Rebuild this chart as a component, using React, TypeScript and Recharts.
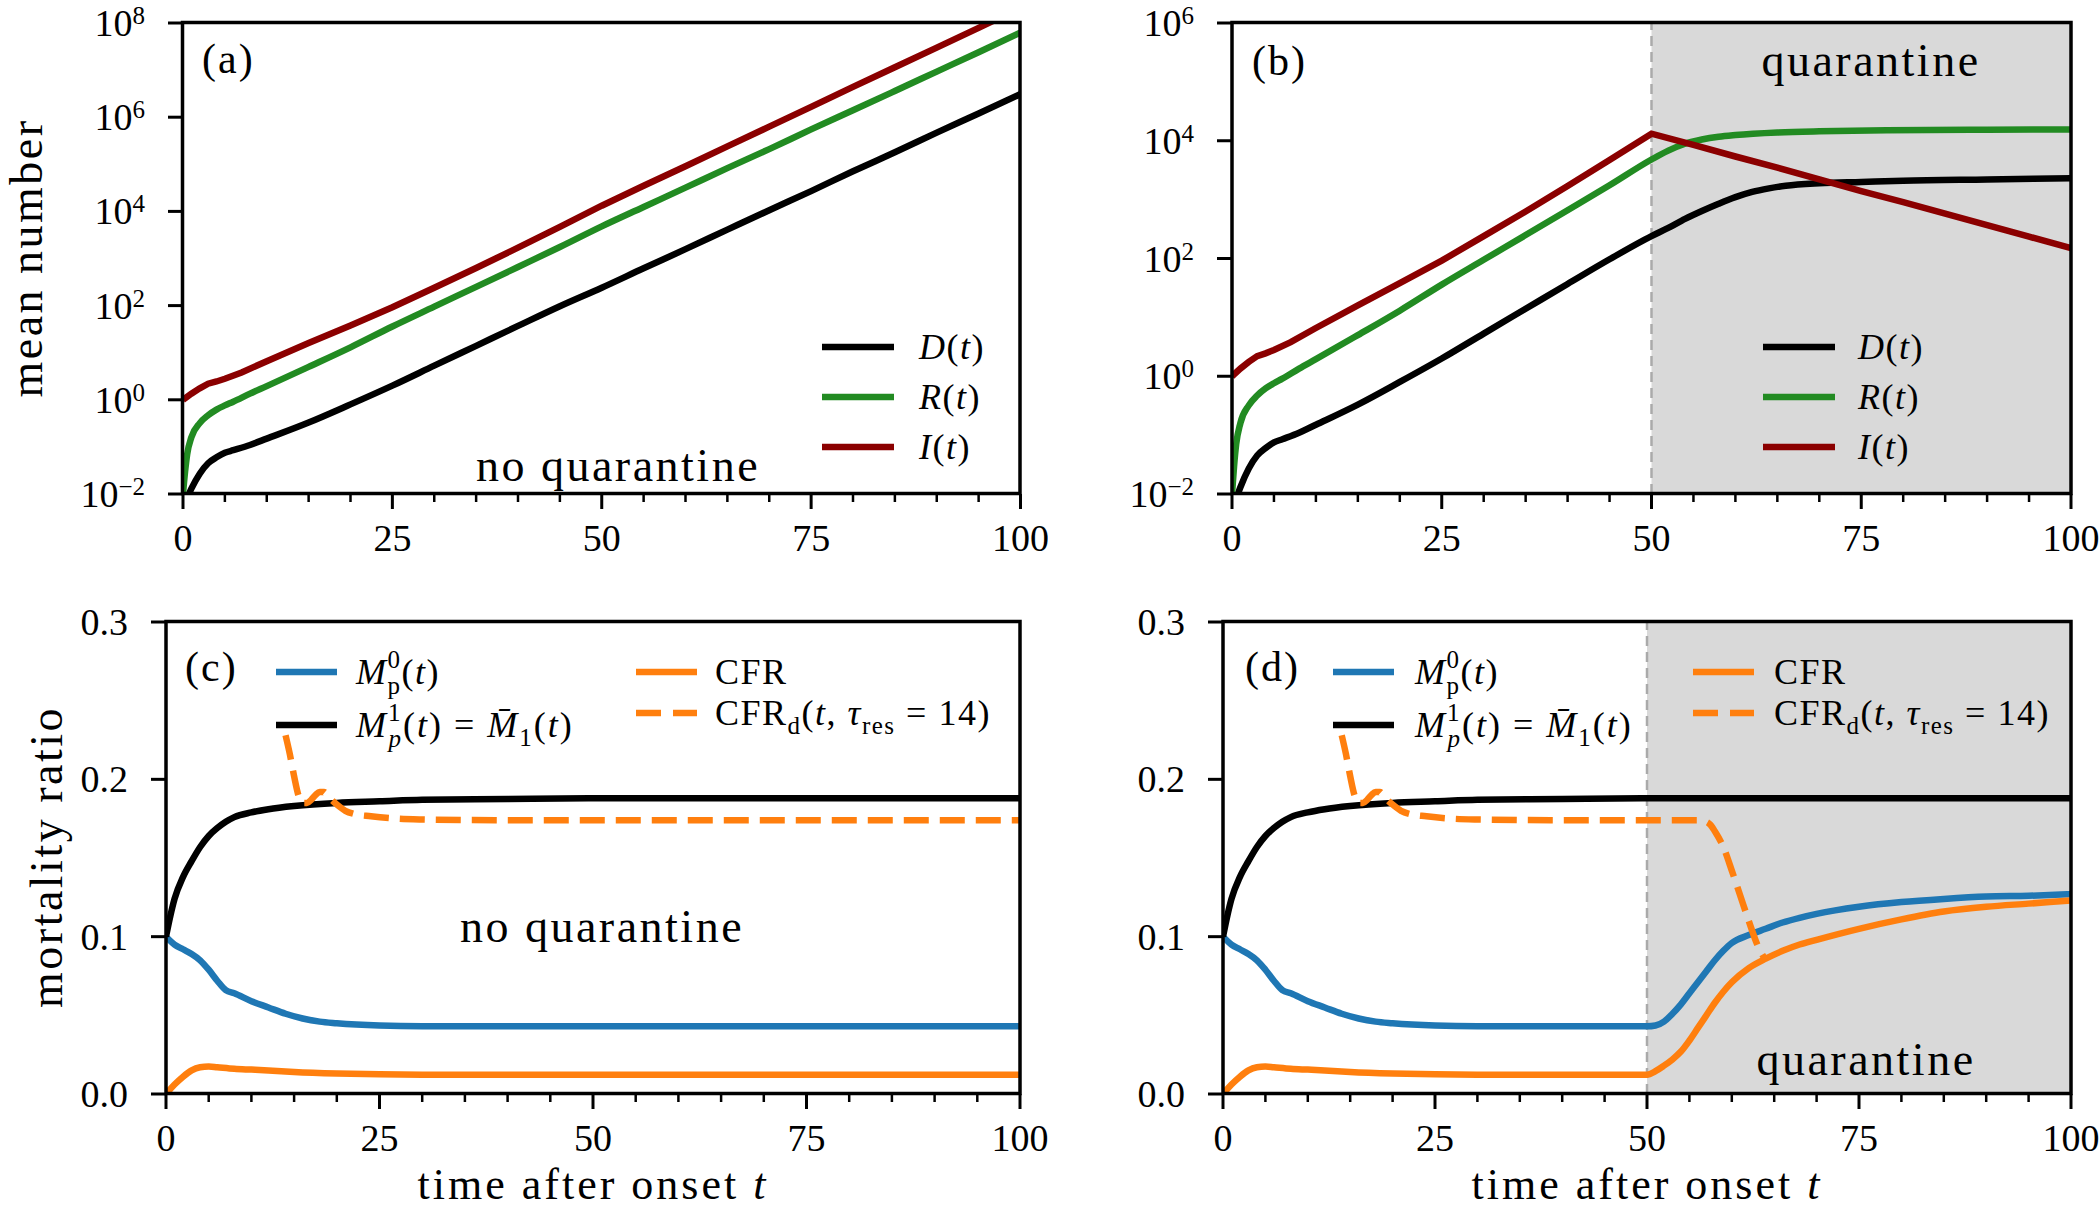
import React from "react";
import { LineChart, Line, XAxis, YAxis, ReferenceArea, ReferenceLine } from "recharts";

const SERIF = "Liberation Serif, Tinos, DejaVu Serif, Noto Serif, serif";

// ---- top row: mean numbers (log scale) ----
const infT = [0, 1, 2, 3, 4, 5, 7, 10, 15, 20, 25, 30, 35, 40, 45, 50];
const infEarly = [1, 1.35, 1.75, 2.2, 2.45, 2.8, 3.8, 6.6, 16, 38, 92, 240, 630, 1700, 4700, 13200];
const lateT = [55, 60, 65, 70, 75, 80, 85, 90, 95, 100];
const infFree = [35000, 91000, 240000, 630000, 1.66e6, 4.4e6, 1.15e7, 3.0e7, 7.9e7, 2.1e8];
const infQuar = [8500, 5400, 3500, 2200, 1400, 910, 580, 370, 235, 150];

const recT = [0, 0.25, 0.5, 1, 2, 3, 4, 5, 6, 8, 10, 15, 20, 25, 30, 35, 40, 45, 50];
const recEarly = [0.01, 0.03, 0.07, 0.16, 0.32, 0.47, 0.62, 0.76, 0.91, 1.35, 1.95, 5, 13, 36, 95, 250, 660, 1750, 4800];
const recFree = [12400, 32000, 83000, 210000, 550000, 1.4e6, 3.6e6, 9.3e6, 2.4e7, 6.3e7];
const recQuarT = [52, 54, 56, 58, 60, 65, 70, 78, 90, 100];
const recQuar = [6800, 8900, 10500, 11700, 12500, 13800, 14500, 15100, 15400, 15500];

const deadT = [0.7, 1, 2, 3, 4, 5, 6, 8, 10, 15, 20, 25, 30, 35, 40, 45, 50];
const deadEarly = [0.01, 0.013, 0.027, 0.045, 0.06, 0.075, 0.085, 0.11, 0.15, 0.33, 0.8, 2, 5.3, 14, 37, 97, 240];
const deadFree = [620, 1580, 4100, 10600, 27000, 71000, 180000, 470000, 1.2e6, 3.1e6];
const deadQuarT = [52, 54, 56, 58, 60, 62, 64, 66, 70, 75, 80, 90, 100];
const deadQuar = [330, 470, 640, 850, 1100, 1350, 1550, 1720, 1900, 2000, 2100, 2200, 2300];

// ---- bottom row: mortality ratios ----
const m0T = [0, 1, 2, 3, 4, 5, 6, 7, 8, 10, 12, 14, 16, 18, 20, 25, 30, 40, 50];
const m0Early = [0.1, 0.095, 0.092, 0.089, 0.085, 0.079, 0.072, 0.066, 0.064, 0.059, 0.055, 0.051, 0.048, 0.046, 0.045, 0.0435, 0.043, 0.043, 0.043];
const freeT = [60, 70, 80, 90, 100];
const m0Free = [0.043, 0.043, 0.043, 0.043, 0.043];
const quarT = [51, 52, 53, 54, 55, 56, 57, 58, 59, 60, 62, 64, 66, 68, 70, 75, 80, 85, 90, 95, 100];
const m0Quar = [0.0435, 0.046, 0.051, 0.057, 0.064, 0.071, 0.078, 0.085, 0.091, 0.096, 0.101, 0.105, 0.109, 0.112, 0.1145, 0.119, 0.122, 0.124, 0.1255, 0.126, 0.127];

const m1T = [0, 0.5, 1, 2, 3, 4, 5, 6, 7, 8, 10, 12, 15, 20, 25, 30, 40, 50, 60, 70, 80, 90, 100];
const m1Vals = [0.1, 0.113, 0.124, 0.138, 0.148, 0.157, 0.164, 0.169, 0.173, 0.176, 0.179, 0.181, 0.183, 0.185, 0.186, 0.187, 0.1875, 0.188, 0.188, 0.188, 0.188, 0.188, 0.188];

const cfrT = [0, 1, 2, 3, 4, 5, 6, 8, 10, 12, 15, 20, 25, 30, 40, 50];
const cfrEarly = [0, 0.006, 0.011, 0.015, 0.017, 0.0175, 0.017, 0.016, 0.0155, 0.015, 0.014, 0.013, 0.0125, 0.0123, 0.0122, 0.0122];
const cfrFree = [0.0122, 0.0122, 0.0122, 0.0122, 0.0122];
const cfrQuar = [0.0145, 0.018, 0.022, 0.027, 0.034, 0.042, 0.05, 0.058, 0.065, 0.071, 0.08, 0.086, 0.091, 0.095, 0.098, 0.105, 0.111, 0.116, 0.119, 0.121, 0.123];

const cfrdT = [14, 14.5, 15, 15.5, 16, 16.5, 17, 17.5, 18, 18.5, 19, 20, 21, 22, 24, 27, 30, 40, 50];
const cfrdEarly = [0.228, 0.216, 0.202, 0.19, 0.185, 0.185, 0.187, 0.19, 0.192, 0.192, 0.189, 0.184, 0.18, 0.178, 0.1765, 0.175, 0.1745, 0.174, 0.174];
const cfrdFree = [0.174, 0.174, 0.174, 0.174, 0.174];
const cfrdQuarT = [56, 57, 57.5, 58, 59, 60, 61, 62, 63, 64];
const cfrdQuar = [0.174, 0.173, 0.171, 0.167, 0.157, 0.142, 0.126, 0.11, 0.095, 0.085];

const xTicks = [0, 5, 10, 15, 20, 25, 30, 35, 40, 45, 50, 55, 60, 65, 70, 75, 80, 85, 90, 95, 100];
const logTicksA = [1e-2, 1, 1e2, 1e4, 1e6, 1e8];
const logTicksB = [1e-2, 1, 1e2, 1e4, 1e6];
const ratioTicks = [0, 0.1, 0.2, 0.3];

const RED = "#8b0000";
const GREEN = "#228b22";
const BLUE = "#1f77b4";
const ORANGE = "#ff7f0e";

const pts = (ts: number[], vs: number[]) => ts.map((t, i) => ({ t, v: vs[i] }));

const infectedA = pts([...infT, ...lateT], [...infEarly, ...infFree]);
const infectedB = pts([...infT, ...lateT], [...infEarly, ...infQuar]);
const recoveredA = pts([...recT, ...lateT], [...recEarly, ...recFree]);
const recoveredB = pts([...recT, ...recQuarT], [...recEarly, ...recQuar]);
const deadA = pts([...deadT, ...lateT], [...deadEarly, ...deadFree]);
const deadB = pts([...deadT, ...deadQuarT], [...deadEarly, ...deadQuar]);

const m0C = pts([...m0T, ...freeT], [...m0Early, ...m0Free]);
const m0D = pts([...m0T, ...quarT], [...m0Early, ...m0Quar]);
const m1 = pts(m1T, m1Vals);
const cfrC = pts([...cfrT, ...freeT], [...cfrEarly, ...cfrFree]);
const cfrD = pts([...cfrT, ...quarT], [...cfrEarly, ...cfrQuar]);
const cfrdC = pts([...cfrdT, ...freeT], [...cfrdEarly, ...cfrdFree]);
const cfrdD = pts([...cfrdT, ...cfrdQuarT], [...cfrdEarly, ...cfrdQuar]);

type Box = { x0: number; y0: number; x1: number; y1: number };
const boxA: Box = { x0: 182.5, y0: 22.5, x1: 1020, y1: 493.5 };
const boxB: Box = { x0: 1232, y0: 22.5, x1: 2071, y1: 493.5 };
const boxC: Box = { x0: 166, y0: 621.5, x1: 1020, y1: 1093.5 };
const boxD: Box = { x0: 1223, y0: 621.5, x1: 2071, y1: 1093.5 };

const YW = 160;
const MT = 22;
const MR = 28;
const XH = 75;
const LW = 6.5;

function XTick(props: any) {
  const { x, y, payload } = props;
  const major = payload.value % 25 === 0;
  return (
    <g>
      <line x1={x} x2={x} y1={y} y2={y + (major ? 15 : 8)} stroke="#000" strokeWidth={major ? 3 : 2.5} />
      {major && (
        <text x={x} y={y + 57} textAnchor="middle" style={{ fontFamily: SERIF }} fontSize={38} fill="#000">
          {payload.value}
        </text>
      )}
    </g>
  );
}

function LogTick(props: any) {
  const { x, y, payload } = props;
  const e = Math.round(Math.log10(payload.value));
  return (
    <g>
      <line x1={x - 15} x2={x} y1={y} y2={y} stroke="#000" strokeWidth={3} />
      <text x={x - 38} y={y + 13} textAnchor="end" style={{ fontFamily: SERIF }} fontSize={38} fill="#000">
        10
        <tspan fontSize={25} dy={-12}>{e < 0 ? "\u2212" + -e : String(e)}</tspan>
      </text>
    </g>
  );
}

function RatioTick(props: any) {
  const { x, y, payload } = props;
  return (
    <g>
      <line x1={x - 15} x2={x} y1={y} y2={y} stroke="#000" strokeWidth={3} />
      <text x={x - 38} y={y + 13} textAnchor="end" style={{ fontFamily: SERIF }} fontSize={38} fill="#000">
        {payload.value.toFixed(1)}
      </text>
    </g>
  );
}

function Panel({ box, log, top, quarantine, children }: { box: Box; log: boolean; top: number; quarantine: boolean; children: React.ReactNode }) {
  const w = YW + box.x1 - box.x0 + MR;
  const h = MT + box.y1 - box.y0 + XH;
  const yDomain = log ? [0.01, top] : [0, 0.3];
  return (
    <div style={{ position: "absolute", left: box.x0 - YW, top: box.y0 - MT }}>
      <LineChart width={w} height={h} margin={{ top: MT, right: MR, left: 0, bottom: 0 }} style={{ overflow: "visible" }}>
        <XAxis
          dataKey="t"
          type="number"
          domain={[0, 100]}
          ticks={xTicks}
          interval={0}
          allowDataOverflow
          axisLine={false}
          tickLine={false}
          tickSize={0}
          tickMargin={0}
          height={XH}
          tick={(p: any) => <XTick {...p} />}
        />
        {log ? (
          <YAxis
            type="number"
            scale="log"
            domain={yDomain}
            ticks={top === 1e8 ? logTicksA : logTicksB}
            interval={0}
            allowDataOverflow
            axisLine={false}
            tickLine={false}
            tickSize={0}
            tickMargin={0}
            width={YW}
            tick={(p: any) => <LogTick {...p} />}
          />
        ) : (
          <YAxis
            type="number"
            domain={yDomain}
            ticks={ratioTicks}
            interval={0}
            allowDataOverflow
            axisLine={false}
            tickLine={false}
            tickSize={0}
            tickMargin={0}
            width={YW}
            tick={(p: any) => <RatioTick {...p} />}
          />
        )}
        {quarantine && (
          <ReferenceArea x1={50} x2={100} y1={yDomain[0]} y2={yDomain[1]} fill="#d9d9d9" fillOpacity={1} stroke="none" />
        )}
        {quarantine && <ReferenceLine x={50} stroke="#aaaaaa" strokeWidth={2.5} strokeDasharray="10 6" />}
        {children}
      </LineChart>
    </div>
  );
}

const lineProps = { dataKey: "v", dot: false, activeDot: false, isAnimationActive: false, strokeWidth: LW } as const;

function Frame({ box }: { box: Box }) {
  return <rect x={box.x0} y={box.y0} width={box.x1 - box.x0} height={box.y1 - box.y0} fill="none" stroke="#000" strokeWidth={3.5} />;
}

function Handle({ x, y, color, dashed }: { x: number; y: number; color: string; dashed?: boolean }) {
  return <line x1={x} x2={x + 61} y1={y} y2={y} stroke={color} strokeWidth={LW} strokeDasharray={dashed ? "25 12" : undefined} />;
}

function TopLegend({ lx, tx }: { lx: number; tx: number }) {
  const rows = [
    { y: 347, c: "#000", s: "D" },
    { y: 397, c: GREEN, s: "R" },
    { y: 447, c: RED, s: "I" },
  ];
  return (
    <g>
      {rows.map((r) => (
        <g key={r.s}>
          <line x1={lx} x2={lx + 72} y1={r.y} y2={r.y} stroke={r.c} strokeWidth={LW} />
          <text x={tx} y={r.y + 12} fontSize={36} letterSpacing={1.5}>
            <tspan fontStyle="italic">{r.s}</tspan>(<tspan fontStyle="italic">t</tspan>)
          </text>
        </g>
      ))}
    </g>
  );
}

function BottomLegend({ lx, tx, rx, rtx }: { lx: number; tx: number; rx: number; rtx: number }) {
  return (
    <g fontSize={36} letterSpacing={1.5}>
      <Handle x={lx} y={672} color={BLUE} />
      <text x={tx} y={684}>
        <tspan fontStyle="italic">M</tspan>
        <tspan fontSize={25} dy={-16}>0</tspan>
        <tspan fontSize={25} dx={-14} dy={26}>p</tspan>
        <tspan dy={-10}>(</tspan>
        <tspan fontStyle="italic">t</tspan>
        <tspan>)</tspan>
      </text>
      <Handle x={lx} y={725} color="#000" />
      <text x={tx} y={737} letterSpacing={2}>
        <tspan fontStyle="italic">M</tspan>
        <tspan fontSize={25} dy={-16}>1</tspan>
        <tspan fontSize={25} fontStyle="italic" dx={-14} dy={26}>p</tspan>
        <tspan dy={-10}>(</tspan>
        <tspan fontStyle="italic">t</tspan>
        <tspan>) = </tspan>
        <tspan fontStyle="italic">{"M\u0304"}</tspan>
        <tspan fontSize={25} dy={9}>1</tspan>
        <tspan dy={-9}>(</tspan>
        <tspan fontStyle="italic">t</tspan>
        <tspan>)</tspan>
      </text>
      <Handle x={rx} y={672} color={ORANGE} />
      <text x={rtx} y={684}>CFR</text>
      <Handle x={rx} y={713} color={ORANGE} dashed />
      <text x={rtx} y={725}>
        <tspan>CFR</tspan>
        <tspan fontSize={25} dy={9}>d</tspan>
        <tspan dy={-9}>(</tspan>
        <tspan fontStyle="italic">t</tspan>
        <tspan>, </tspan>
        <tspan fontStyle="italic">{"\u03c4"}</tspan>
        <tspan fontSize={25} dy={9}>res</tspan>
        <tspan dy={-9}> = 14)</tspan>
      </text>
    </g>
  );
}

export default function App() {
  return (
    <div style={{ position: "absolute", left: 0, top: 0, width: 2100, height: 1209, overflow: "hidden", background: "#fff", fontFamily: SERIF }}>
      <Panel box={boxA} log top={1e8} quarantine={false}>
        <Line {...lineProps} data={deadA} stroke="#000" type="monotone" />
        <Line {...lineProps} data={recoveredA} stroke={GREEN} type="monotone" />
        <Line {...lineProps} data={infectedA} stroke={RED} type="linear" />
      </Panel>
      <Panel box={boxB} log top={1e6} quarantine>
        <Line {...lineProps} data={deadB} stroke="#000" type="monotone" />
        <Line {...lineProps} data={recoveredB} stroke={GREEN} type="monotone" />
        <Line {...lineProps} data={infectedB} stroke={RED} type="linear" />
      </Panel>
      <Panel box={boxC} log={false} top={0.3} quarantine={false}>
        <Line {...lineProps} data={m0C} stroke={BLUE} type="monotone" />
        <Line {...lineProps} data={m1} stroke="#000" type="monotone" />
        <Line {...lineProps} data={cfrC} stroke={ORANGE} type="monotone" />
        <Line {...lineProps} data={cfrdC} stroke={ORANGE} type="monotone" strokeDasharray="25 11" strokeLinecap="butt" />
      </Panel>
      <Panel box={boxD} log={false} top={0.3} quarantine>
        <Line {...lineProps} data={m0D} stroke={BLUE} type="monotone" />
        <Line {...lineProps} data={m1} stroke="#000" type="monotone" />
        <Line {...lineProps} data={cfrD} stroke={ORANGE} type="monotone" />
        <Line {...lineProps} data={cfrdD} stroke={ORANGE} type="monotone" strokeDasharray="25 11" strokeLinecap="butt" />
      </Panel>

      <svg width={2100} height={1209} style={{ position: "absolute", left: 0, top: 0, pointerEvents: "none", fontFamily: SERIF }} fill="#000">
        <Frame box={boxA} />
        <Frame box={boxB} />
        <Frame box={boxC} />
        <Frame box={boxD} />

        <g fontSize={42} letterSpacing={2}>
          <text x={202} y={73}>(a)</text>
          <text x={1252} y={75}>(b)</text>
          <text x={185} y={681}>(c)</text>
          <text x={1245} y={681}>(d)</text>
        </g>

        <g fontSize={46} letterSpacing={2.5}>
          <text x={618} y={481} textAnchor="middle">no quarantine</text>
          <text x={602} y={942} textAnchor="middle">no quarantine</text>
          <text x={1871} y={76} textAnchor="middle">quarantine</text>
          <text x={1866} y={1075} textAnchor="middle">quarantine</text>
          <text transform="translate(42 258) rotate(-90)" textAnchor="middle">mean number</text>
          <text transform="translate(62 857) rotate(-90)" textAnchor="middle">mortality ratio</text>
        </g>
        <g fontSize={44} letterSpacing={3}>
          <text x={593} y={1199} textAnchor="middle">
            time after onset <tspan fontStyle="italic">t</tspan>
          </text>
          <text x={1647} y={1199} textAnchor="middle">
            time after onset <tspan fontStyle="italic">t</tspan>
          </text>
        </g>

        <TopLegend lx={822} tx={919} />
        <TopLegend lx={1763} tx={1858} />
        <BottomLegend lx={276} tx={356} rx={636} rtx={715} />
        <BottomLegend lx={1333} tx={1415} rx={1693} rtx={1774} />
      </svg>
    </div>
  );
}
